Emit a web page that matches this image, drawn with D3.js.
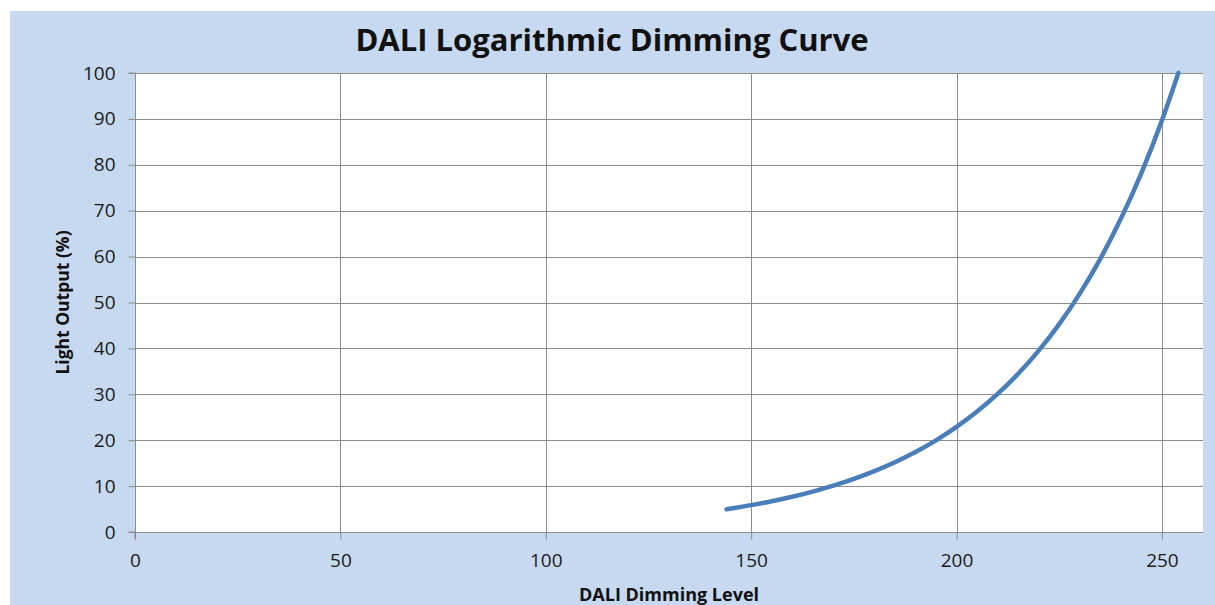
<!DOCTYPE html>
<html><head><meta charset="utf-8">
<script src="https://cdn.jsdelivr.net/npm/d3@7/dist/d3.min.js"></script>
<style>
html,body{margin:0;padding:0;background:#fff;}
svg{display:block;}
text{font-family:"Open Sans","Noto Sans",sans-serif;}
</style></head>
<body>
<svg id="chart" width="1215" height="605"></svg>
<script>
// Data
const levels = [144,150,155,160,165,170,175,180,185,190,195,200,205,210,215,220,225,230,235,240,245,250,254];
const output = [4.96,5.85,6.70,7.68,8.81,10.09,11.57,13.26,15.20,17.42,19.97,22.89,26.24,30.08,34.47,39.52,45.30,51.93,59.52,68.23,78.21,89.65,100];
const xTicks = [0,50,100,150,200,250];
const yTicks = [0,10,20,30,40,50,60,70,80,90,100];
const title = "DALI Logarithmic Dimming Curve";
const xTitle = "DALI Dimming Level";
const yTitle = "Light Output (%)";

const svg = d3.select("#chart");
const W = 1215, H = 605;
const plot = {left:135, top:73, right:1203, bottom:532};

svg.append("rect").attr("x",10).attr("y",11).attr("width",W-10).attr("height",H-11).attr("fill","#c6d9f0");
svg.append("rect").attr("x",plot.left).attr("y",plot.top).attr("width",plot.right-plot.left).attr("height",plot.bottom-plot.top).attr("fill","#fff");

const x = d3.scaleLinear().domain([0,260]).range([plot.left, plot.right]);
const y = d3.scaleLinear().domain([0,100]).range([plot.bottom, plot.top]);

const gridColor = "#8c8c8c";
svg.append("g").selectAll("line").data(yTicks).join("line")
  .attr("x1",plot.left).attr("x2",plot.right)
  .attr("y1",d=>Math.round(y(d))+0.5).attr("y2",d=>Math.round(y(d))+0.5)
  .attr("stroke",gridColor).attr("stroke-width",1);
svg.append("g").selectAll("line").data(xTicks.filter(d=>d>0)).join("line")
  .attr("y1",plot.top).attr("y2",plot.bottom)
  .attr("x1",d=>Math.round(x(d))+0.5).attr("x2",d=>Math.round(x(d))+0.5)
  .attr("stroke",gridColor).attr("stroke-width",1);

const yAxis = d3.axisLeft(y).tickValues(yTicks).tickSize(7).tickPadding(13).tickFormat(d3.format("d"));
const gy = svg.append("g").attr("transform",`translate(${plot.left+0.5},0)`).call(yAxis);
const xAxis = d3.axisBottom(x).tickValues(xTicks).tickSize(7).tickPadding(14).tickFormat(d3.format("d"));
const gx = svg.append("g").attr("transform",`translate(0,${Math.round(plot.bottom)+0.5})`).call(xAxis);
[gx,gy].forEach(g=>{
  g.select(".domain").attr("stroke",gridColor);
  g.selectAll(".tick line").attr("stroke",gridColor);
  g.selectAll(".tick text").attr("fill","#1a1a1a").style("font-size","19px").style("font-family",'"Open Sans","Noto Sans",sans-serif');
});
gx.select(".domain").attr("d",`M${plot.left},7V0H${plot.right}`);
gy.select(".domain").attr("d",`M-7,${plot.bottom}H0V${plot.top}H-7`);

const line = d3.line().x((d,i)=>x(levels[i])).y(d=>y(d)).curve(d3.curveMonotoneX);
svg.append("path").datum(output).attr("d",line)
  .attr("fill","none").attr("stroke","#4a7ebb").attr("stroke-width",4.5).attr("stroke-linecap","round");

svg.append("text").attr("x",612).attr("y",51).attr("text-anchor","middle")
  .style("font-size","31px").style("font-weight","bold").attr("fill","#111").text(title);
svg.append("text").attr("x",(plot.left+plot.right)/2).attr("y",601).attr("text-anchor","middle")
  .style("font-size","18px").style("font-weight","bold").attr("fill","#111").text(xTitle);
svg.append("text").attr("transform",`translate(69,${(plot.top+plot.bottom)/2}) rotate(-90)`).attr("text-anchor","middle")
  .style("font-size","17.5px").style("font-weight","bold").attr("fill","#111").text(yTitle);
</script>
</body></html>
